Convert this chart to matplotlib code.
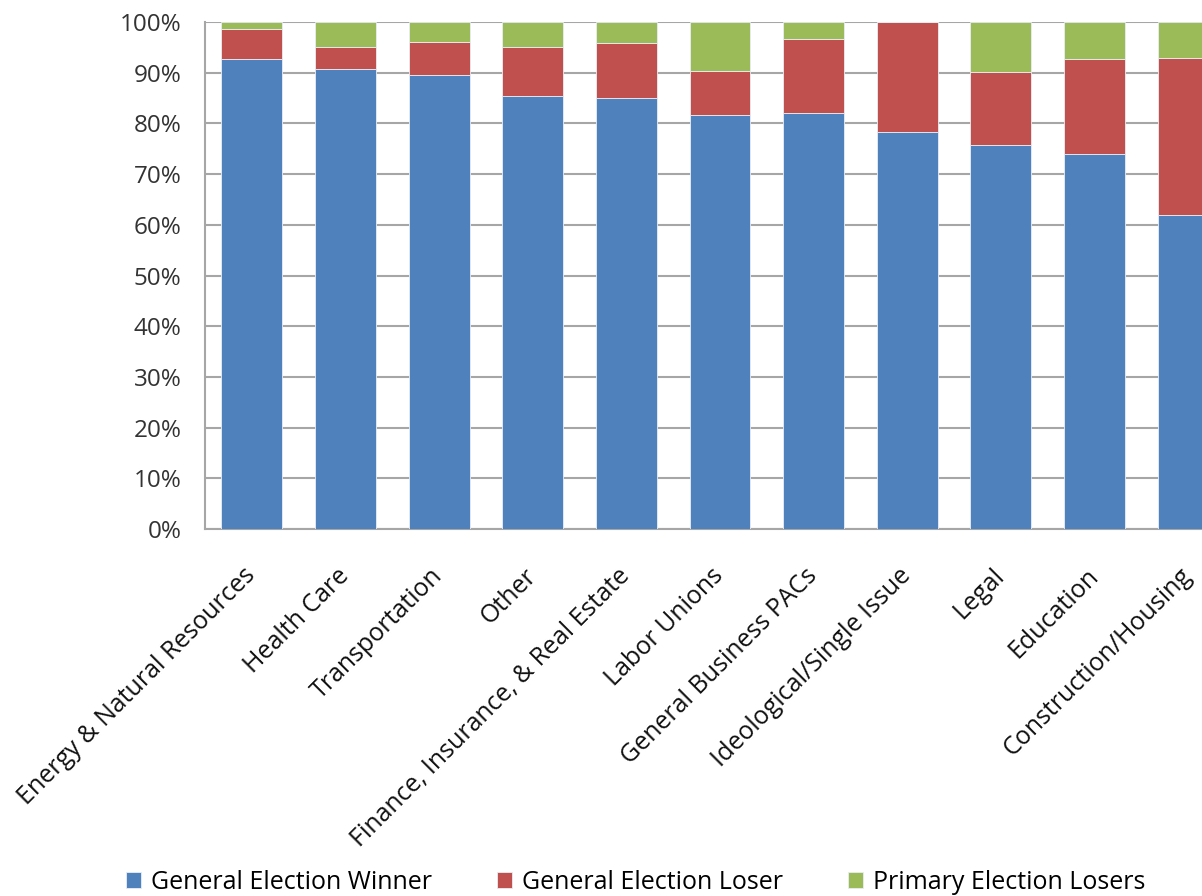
import matplotlib
matplotlib.use("Agg")
import matplotlib.pyplot as plt
import numpy as np
from matplotlib.ticker import PercentFormatter

# values (percent of contributions)
categories = ["Energy & Natural Resources", "Health Care", "Transportation", "Other",
              "Finance, Insurance, & Real Estate", "Labor Unions", "General Business PACs",
              "Ideological/Single Issue", "Legal", "Education", "Construction/Housing"]
winner = [92.7, 90.8, 89.5, 85.5, 85.0, 81.7, 82.0, 78.4, 75.7, 73.9, 62.0]
loser = [5.9, 4.3, 6.6, 9.6, 10.9, 8.6, 14.6, 21.6, 14.4, 18.8, 30.9]
primary = [1.4, 4.9, 3.9, 4.9, 4.1, 9.7, 3.4, 0.0, 9.9, 7.3, 7.1]

series_names = ["General Election Winner", "General Election Loser", "Primary Election Losers"]
colors = ["#4F81BD", "#C0504D", "#9BBB59"]

plt.rcParams['font.family'] = ['Open Sans', 'DejaVu Sans']

fig = plt.figure(figsize=(12.02, 8.96), dpi=100)
# axes runs past the right edge, like the cropped original
ax = fig.add_axes([205 / 1202, 367 / 896, 1030 / 1202, 507 / 896])

x = np.arange(len(categories))
bottom = np.zeros(len(categories))
for vals, name, col in zip([winner, loser, primary], series_names, colors):
    vals = np.array(vals)
    ax.bar(x, vals, 0.65, bottom=bottom, color=col, edgecolor="#E8EEF6",
           linewidth=0.6, label=name, zorder=3)
    bottom += vals

ax.set_xlim(-0.5, len(categories) - 0.5)
ax.set_ylim(0, 100)
ax.set_yticks(np.arange(0, 101, 10))
ax.yaxis.set_major_formatter(PercentFormatter(decimals=0))
ax.grid(axis="y", color="#A6A6A6", linewidth=1.5, zorder=0)

for s in ["top", "right"]:
    ax.spines[s].set_visible(False)
for s in ["left", "bottom"]:
    ax.spines[s].set_color("#A6A6A6")
    ax.spines[s].set_linewidth(1.5)

ax.tick_params(axis="y", length=0, pad=17, labelsize=17.5, labelcolor="#333333")
ax.tick_params(axis="x", length=0, pad=31)
ax.set_xticks(x)
ax.set_xticklabels(categories, rotation=45, ha="right", va="center",
                   rotation_mode="anchor", fontsize=18, color="#111111")

fig.legend(loc="center", bbox_to_anchor=(636 / 1202, 1 - 882 / 896), ncol=3,
           frameon=False, fontsize=18, handlelength=0.6, handleheight=0.6,
           columnspacing=2.6, handletextpad=0.4)

fig.savefig("out.png", dpi=100)
